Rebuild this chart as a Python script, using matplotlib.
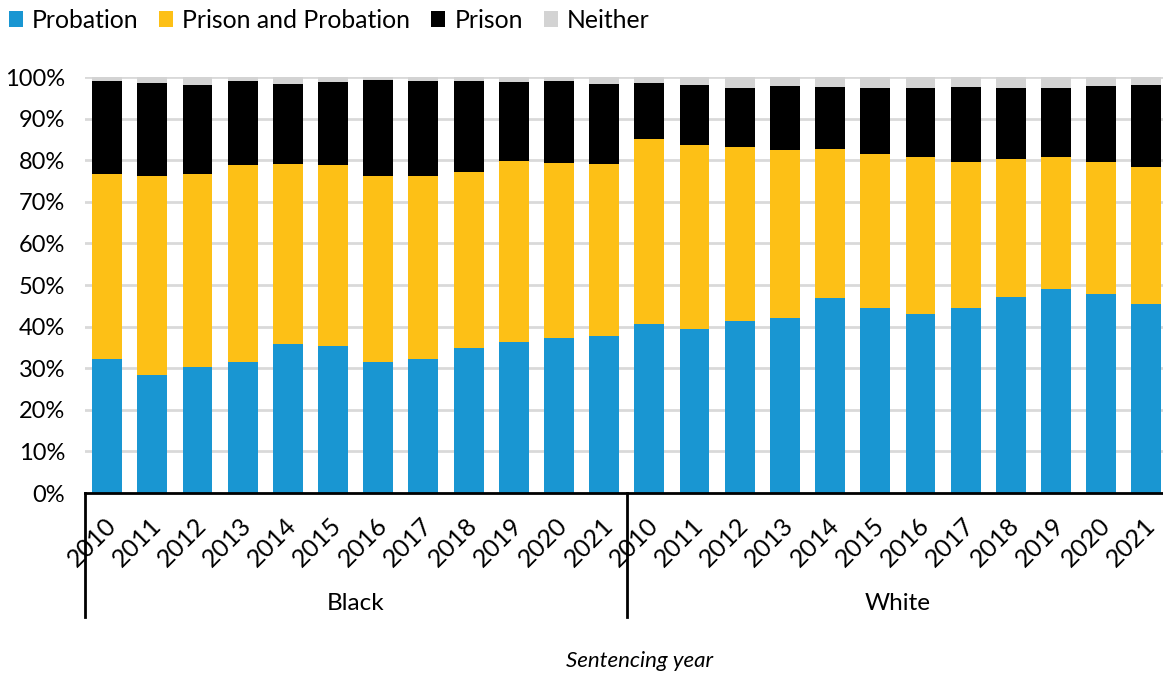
import matplotlib
matplotlib.use("Agg")
import matplotlib.pyplot as plt
from matplotlib.transforms import ScaledTranslation
import numpy as np

plt.rcParams["font.family"] = ["Lato", "DejaVu Sans"]

years = ["2010", "2011", "2012", "2013", "2014", "2015",
         "2016", "2017", "2018", "2019", "2020", "2021"]
groups = ["Black", "White"]

# shares in percent, Black then White
probation_black = [32.1, 28.4, 30.4, 31.4, 35.7, 35.3, 31.4, 32.1, 34.9, 36.2, 37.3, 37.7]
both_black = [44.5, 47.7, 46.4, 47.5, 43.4, 43.5, 44.7, 44.0, 42.3, 43.6, 42.0, 41.3]
prison_black = [22.4, 22.4, 21.3, 20.1, 19.1, 19.9, 23.1, 22.9, 21.8, 19.0, 19.7, 19.4]
neither_black = [1.0, 1.5, 1.9, 1.0, 1.8, 1.3, 0.8, 1.0, 1.0, 1.2, 1.0, 1.6]

probation_white = [40.6, 39.4, 41.3, 42.1, 46.9, 44.4, 43.0, 44.5, 47.2, 49.0, 47.8, 45.5]
both_white = [44.4, 44.3, 41.8, 40.3, 35.7, 37.0, 37.8, 35.0, 33.0, 31.7, 31.8, 32.9]
prison_white = [13.5, 14.4, 14.3, 15.4, 15.0, 16.0, 16.6, 18.0, 17.2, 16.6, 18.2, 19.7]
neither_white = [1.5, 1.9, 2.6, 2.2, 2.4, 2.6, 2.6, 2.5, 2.6, 2.7, 2.2, 1.9]

series = {
    "Probation": (probation_black + probation_white, "#1996d2"),
    "Prison and Probation": (both_black + both_white, "#fdc016"),
    "Prison": (prison_black + prison_white, "#000000"),
    "Neither": (neither_black + neither_white, "#d3d3d3"),
}

W, H = 1163, 677
fig = plt.figure(figsize=(W / 100, H / 100), dpi=100)
# plot area runs a little past the right edge of the image, as in the original
ax = fig.add_axes([84.5 / W, 1 - 493 / H, (1169 - 84.5) / W, (493 - 77) / H])

n = len(years) * len(groups)
x = np.arange(n)
bottom = np.zeros(n)
for name, (vals, color) in series.items():
    vals = np.array(vals)
    ax.bar(x, vals, 0.66, bottom=bottom, color=color, label=name, zorder=2)
    bottom += vals

ax.set_xlim(-0.5, n - 0.5)
ax.set_ylim(0, 100)
ax.set_yticks(np.arange(0, 101, 10))
ax.set_yticklabels([f"{v}%" for v in range(0, 101, 10)], fontsize=17)
ax.grid(axis="y", color="#d9d9d9", linewidth=2, zorder=0)
ax.set_axisbelow(True)
for s in ["top", "right", "left"]:
    ax.spines[s].set_visible(False)
ax.spines["bottom"].set_linewidth(2)
ax.tick_params(axis="y", length=0, pad=14)
ax.tick_params(axis="x", length=0, pad=2)

ax.set_xticks(x)
ax.set_xticklabels(years * len(groups), fontsize=18, rotation=45,
                   ha="right", va="center", rotation_mode="anchor")
for lbl in ax.get_xticklabels():
    lbl.set_transform(lbl.get_transform() + ScaledTranslation(0.05, -0.26, fig.dpi_scale_trans))

# group separators and labels
y_low = -(617 - 493) / (493 - 77)
for b in [-0.5, len(years) - 0.5]:
    ax.plot([b, b], [0, y_low * 100], color="black", lw=2, clip_on=False)
for i, g in enumerate(groups):
    cx = i * len(years) + (len(years) - 1) / 2
    ax.text(cx, -(603 - 493) / 4.16, g, ha="center", va="center", fontsize=17.5)

fig.text(640 / W, 1 - 661 / H, "Sentencing year", ha="center", va="center",
         fontsize=16, style="italic")

ax.legend(loc="upper left", bbox_to_anchor=(0, 1), bbox_transform=fig.transFigure,
          ncol=4, frameon=False, fontsize=17.8, handlelength=0.57, handleheight=0.57,
          handletextpad=0.36, columnspacing=0.85, borderaxespad=0.15, borderpad=0.2)

fig.savefig("out.png", dpi=100)
